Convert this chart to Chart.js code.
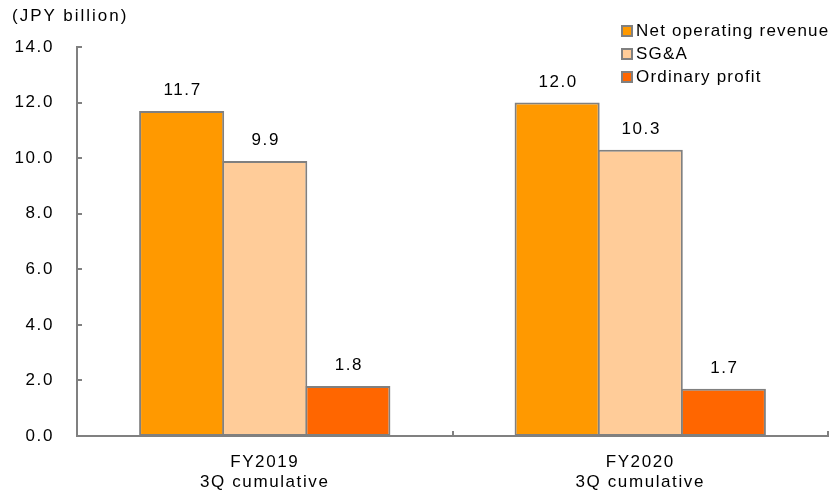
<!DOCTYPE html>
<html>
<head>
<meta charset="utf-8">
<script src="https://cdn.jsdelivr.net/npm/chart.js@4.4.1/dist/chart.umd.min.js"></script>
<style>
  html, body { margin: 0; padding: 0; background: #fff; }
  #wrap { position: relative; width: 835px; height: 490px; font-family: "Liberation Sans", Arial, sans-serif; }
  #unit { position: absolute; left: 12px; top: 6px; font-size: 17px; letter-spacing: 2px; color: #000; }
  #legend { position: absolute; left: 621px; top: 19px; font-size: 17px; letter-spacing: 1.2px; color: #000; }
  .leg-item { display: flex; align-items: center; height: 23px; }
  .leg-box { width: 8px; height: 8px; border: 2px solid #808080; margin-right: 3px; }
</style>
</head>
<body>
<div id="wrap">
  <canvas id="barChart" width="835" height="490"></canvas>
  <div id="unit">(JPY billion)</div>
  <div id="legend"></div>
</div>
<script>
const categories = [['FY2019', '3Q cumulative'], ['FY2020', '3Q cumulative']];
const seriesNames = ['Net operating revenue', 'SG&A', 'Ordinary profit'];
const netRevenue = [11.7, 12.0];
const sgaCost = [9.9, 10.3];
const ordinaryProfit = [1.8, 1.7];
const seriesColors = ['#FF9900', '#FFCC99', '#FF6600'];
const axisColor = '#808080';
const fontFamily = '"Liberation Sans", Arial, sans-serif';

// wider letter spacing for every canvas text
const spacing = {
  id: 'spacing',
  beforeDraw(chart) {
    chart.ctx.letterSpacing = '1.6px';
  }
};

// value labels above each bar
const barLabels = {
  id: 'barLabels',
  afterDatasetsDraw(chart) {
    const ctx = chart.ctx;
    ctx.save();
    ctx.font = '17px ' + fontFamily;
    ctx.fillStyle = '#000';
    ctx.textAlign = 'center';
    ctx.textBaseline = 'alphabetic';
    chart.data.datasets.forEach((ds, i) => {
      chart.getDatasetMeta(i).data.forEach((bar, j) => {
        ctx.fillText(ds.data[j].toFixed(1), bar.x + 1, bar.y - 16);
      });
    });
    ctx.restore();
  }
};

// short inward ticks on both axes
const innerTicks = {
  id: 'innerTicks',
  afterDraw(chart) {
    const x = chart.scales.x;
    const y = chart.scales.y;
    const ctx = chart.ctx;
    ctx.save();
    ctx.strokeStyle = axisColor;
    ctx.lineWidth = 2;
    y.ticks.forEach(t => {
      const py = Math.round(y.getPixelForValue(t.value));
      ctx.beginPath();
      ctx.moveTo(y.right, py);
      ctx.lineTo(y.right + 5, py);
      ctx.stroke();
    });
    for (let i = 1; i <= x.ticks.length; i++) {
      const px = Math.round(x.getPixelForTick(0) + (i - 0.5) * (x.getPixelForTick(1) - x.getPixelForTick(0)));
      ctx.beginPath();
      ctx.moveTo(px, x.top);
      ctx.lineTo(px, x.top - 5);
      ctx.stroke();
    }
    ctx.restore();
  }
};

const datasets = [netRevenue, sgaCost, ordinaryProfit].map((data, i) => ({
  label: seriesNames[i],
  data: data,
  backgroundColor: seriesColors[i],
  borderColor: axisColor,
  borderWidth: 2,
  borderSkipped: false,
  barPercentage: 1.024,
  categoryPercentage: 0.664
}));

const chart = new Chart(document.getElementById('barChart'), {
  type: 'bar',
  data: { labels: categories, datasets: datasets },
  plugins: [spacing, barLabels, innerTicks],
  options: {
    responsive: false,
    animation: false,
    layout: { padding: { left: 0, right: 7, top: 47, bottom: 0 } },
    plugins: { legend: { display: false }, tooltip: { enabled: false } },
    scales: {
      x: {
        afterFit(scale) { scale.height = 54; },
        grid: { display: false },
        border: { display: true, color: axisColor, width: 2 },
        ticks: { color: '#000', font: { size: 17, family: fontFamily, lineHeight: 1.2 }, padding: 8 }
      },
      y: {
        min: 0,
        max: 14,
        afterFit(scale) { scale.width = 77; },
        grid: { display: false },
        border: { display: true, color: axisColor, width: 2 },
        ticks: {
          stepSize: 2,
          color: '#000',
          padding: 15,
          font: { size: 17, family: fontFamily },
          callback: v => v.toFixed(1)
        }
      }
    }
  }
});

// legend built from the datasets
const legend = document.getElementById('legend');
chart.data.datasets.forEach(ds => {
  const item = document.createElement('div');
  item.className = 'leg-item';
  const box = document.createElement('span');
  box.className = 'leg-box';
  box.style.background = ds.backgroundColor;
  const txt = document.createElement('span');
  txt.textContent = ds.label;
  item.appendChild(box);
  item.appendChild(txt);
  legend.appendChild(item);
});
</script>
</body>
</html>
